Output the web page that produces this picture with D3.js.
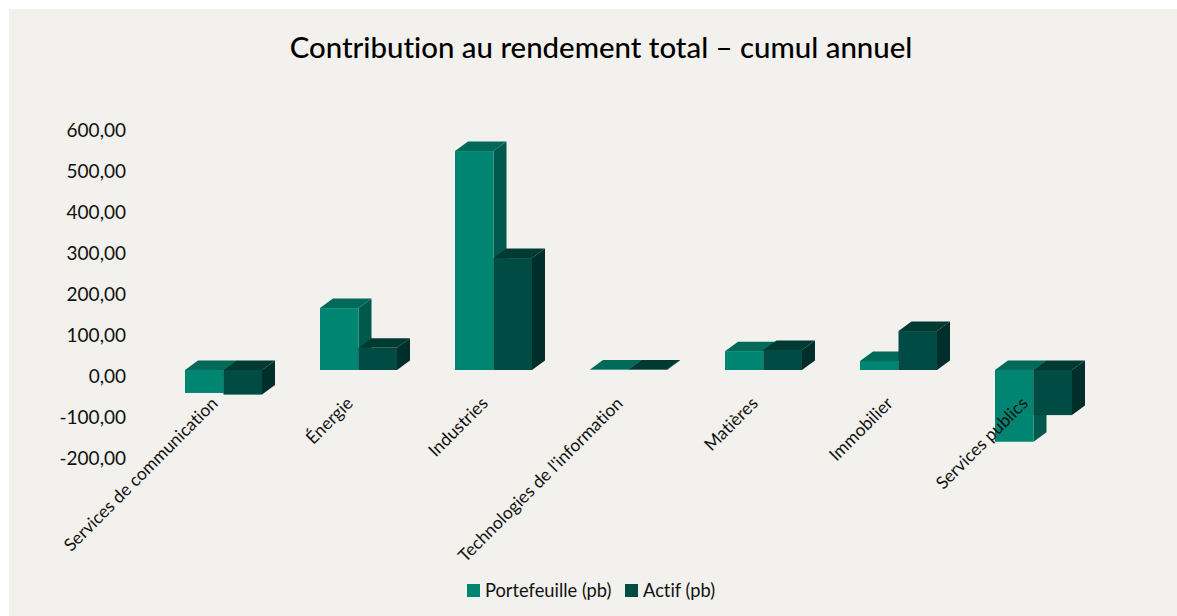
<!DOCTYPE html>
<html>
<head>
<meta charset="utf-8">
<script src="https://cdn.jsdelivr.net/npm/d3@7"></script>
<style>
  html, body { margin: 0; padding: 0; background: #fff; }
  svg { display: block; font-family: Lato, sans-serif; font-variant-ligatures: none; }
  svg text { font-variant-ligatures: none; }
</style>
</head>
<body>
<div id="chart"></div>
<script>
const categories = ['Services de communication', 'Énergie', 'Industries', "Technologies de l'information", 'Matières', 'Immobilier', 'Services publics']
const seriesNames = ['Portefeuille (pb)', 'Actif (pb)']
const portefeuille = [-56, 151, 534, 1, 46, 22, -175]
const actif = [-60, 54, 273, 1, 49, 95, -110]
const tickValues = [-200, -100, 0, 100, 200, 300, 400, 500, 600]

const width = 1177
const height = 616
const depthX = 13
const depthY = 9.5

const colors = [
  { front: '#008573', top: '#00695a', side: '#00594c' },
  { front: '#004b43', top: '#003a33', side: '#002e2a' }
]

const svg = d3.select('#chart').append('svg')
  .attr('width', width)
  .attr('height', height)

svg.append('rect')
  .attr('x', 9)
  .attr('y', 9)
  .attr('width', width - 9)
  .attr('height', height - 9)
  .attr('fill', '#f2f1ed')

svg.append('text')
  .attr('x', 601)
  .attr('y', 58)
  .attr('text-anchor', 'middle')
  .attr('font-size', 29.4)
  .attr('font-weight', 500)
  .attr('fill', '#000')
  .text('Contribution au rendement total – cumul annuel')

const x = d3.scaleBand().domain(categories).range([156, 1101])
const xInner = d3.scaleBand().domain(seriesNames).range([29, 106])
const y = d3.scaleLinear().domain([-200, 600]).range([452, 124])

// tick labels sit a little below the front plane of the bars
const yAxis = d3.axisLeft(y)
  .tickValues(tickValues)
  .tickSize(0)
  .tickPadding(0)
  .tickFormat(d => d3.format('.2f')(d).replace('.', ',').replace('−', '-'))

svg.append('g')
  .attr('transform', 'translate(126,6.5)')
  .call(yAxis)
  .call(g => g.select('.domain').remove())
  .selectAll('text')
  .attr('font-family', 'Lato, sans-serif')
  .attr('font-size', 19)
  .attr('fill', '#111')

const rows = categories.map((c, i) => ({ category: c, values: [portefeuille[i], actif[i]] }))

function topFace(x0, x1, yTop) {
  return `M${x0},${yTop}L${x0 + depthX},${yTop - depthY}L${x1 + depthX},${yTop - depthY}L${x1},${yTop}Z`
}

function sideFace(x1, yTop, yBottom) {
  return `M${x1},${yTop}L${x1 + depthX},${yTop - depthY}L${x1 + depthX},${yBottom - depthY}L${x1},${yBottom}Z`
}

const groups = svg.append('g').attr('class', 'bars')
  .selectAll('g')
  .data(rows)
  .join('g')
  .attr('transform', d => `translate(${x(d.category)},0)`)

seriesNames.forEach((name, s) => {
  const bar = groups.append('g').attr('class', 'bar-' + s)

  bar.append('path')
    .attr('fill', colors[s].side)
    .attr('d', d => {
      const x1 = xInner(name) + xInner.bandwidth()
      return sideFace(x1, y(Math.max(d.values[s], 0)), y(Math.min(d.values[s], 0)))
    })

  bar.append('path')
    .attr('fill', colors[s].top)
    .attr('d', d => {
      const x0 = xInner(name)
      return topFace(x0, x0 + xInner.bandwidth(), y(Math.max(d.values[s], 0)))
    })

  bar.append('rect')
    .attr('fill', colors[s].front)
    .attr('x', xInner(name))
    .attr('width', xInner.bandwidth())
    .attr('y', d => y(Math.max(d.values[s], 0)))
    .attr('height', d => Math.abs(y(d.values[s]) - y(0)))
})

svg.append('g').attr('class', 'labels')
  .selectAll('text')
  .data(categories)
  .join('text')
  .attr('transform', d => `translate(${x(d) + x.bandwidth() / 2 - 4.5},${404.5}) rotate(-45)`)
  .attr('text-anchor', 'end')
  .attr('font-size', 17.5)
  .attr('fill', '#111')
  .text(d => d)

const legend = svg.append('g').attr('class', 'legend')
  .selectAll('g')
  .data(seriesNames)
  .join('g')
  .attr('transform', (d, i) => `translate(${[467, 625][i]},584)`)

legend.append('rect')
  .attr('width', 13)
  .attr('height', 13)
  .attr('fill', (d, i) => colors[i].front)

legend.append('text')
  .attr('x', 18)
  .attr('y', 13)
  .attr('font-size', 18.3)
  .attr('fill', '#111')
  .text(d => d)
</script>
</body>
</html>
